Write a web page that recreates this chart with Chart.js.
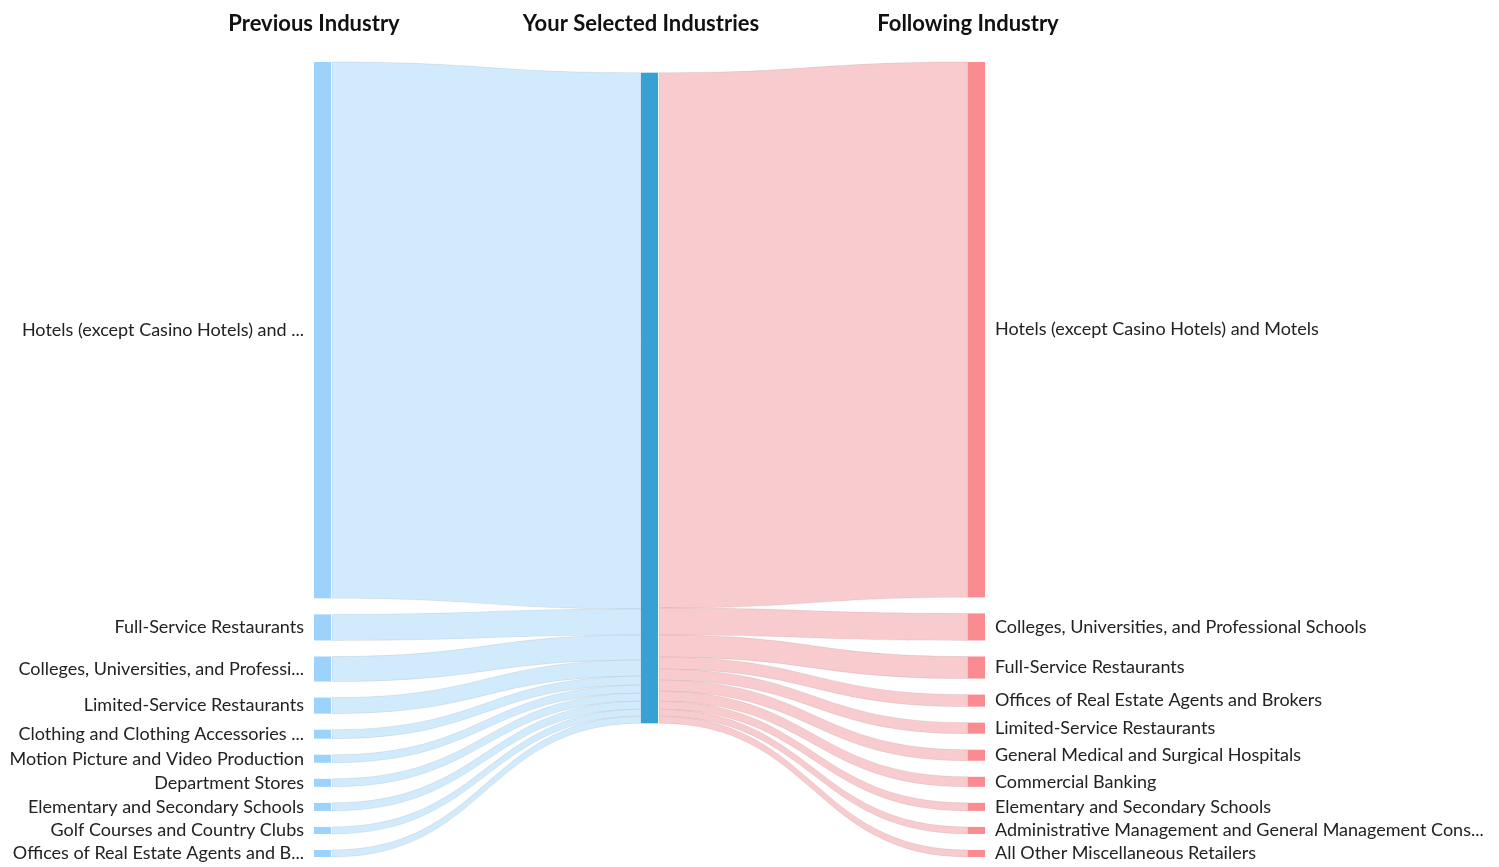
<!DOCTYPE html>
<html>
<head>
<meta charset="utf-8">
<script src="https://cdn.jsdelivr.net/npm/chart.js@4.4.1/dist/chart.umd.min.js"></script>
<style>
  html, body { margin: 0; padding: 0; background: #fff; }
  #wrap { width: 1499px; height: 867px; }
</style>
</head>
<body>
<div id="wrap"><canvas id="flowChart"></canvas></div>
<script>
// column headings (drawn as x axis ticks)
var columns = ['Previous Industry', 'Your Selected Industries', 'Following Industry'];

// industries people came from, and how many
var prevLabels = [
  'Hotels (except Casino Hotels) and ...',
  'Full-Service Restaurants',
  'Colleges, Universities, and Professi...',
  'Limited-Service Restaurants',
  'Clothing and Clothing Accessories ...',
  'Motion Picture and Video Production',
  'Department Stores',
  'Elementary and Secondary Schools',
  'Golf Courses and Country Clubs',
  'Offices of Real Estate Agents and B...'
];
var prevValues = [535, 26, 25, 16, 9, 8, 8, 8, 7, 7];

// industries people went to next
var nextLabels = [
  'Hotels (except Casino Hotels) and Motels',
  'Colleges, Universities, and Professional Schools',
  'Full-Service Restaurants',
  'Offices of Real Estate Agents and Brokers',
  'Limited-Service Restaurants',
  'General Medical and Surgical Hospitals',
  'Commercial Banking',
  'Elementary and Secondary Schools',
  'Administrative Management and General Management Cons...',
  'All Other Miscellaneous Retailers'
];
var nextValues = [534, 27, 22, 12, 11, 11, 10, 8, 7, 7];

var NODE_GAP = 16;     // space between nodes, in value units
var NODE_WIDTH = 17;   // px
var LABEL_PAD = 10;    // px

function sum(arr) { return arr.reduce(function (a, b) { return a + b; }, 0); }

// stack a column from the top, returns [{y0, y1}]
function stackColumn(values) {
  var y = 0;
  return values.map(function (v) {
    var n = { y0: y, y1: y + v };
    y += v + NODE_GAP;
    return n;
  });
}

var prevNodes = stackColumn(prevValues);
var nextNodes = stackColumn(nextValues);
var total = Math.max(sum(prevValues), sum(nextValues));
var yMax = Math.max(
  prevNodes[prevNodes.length - 1].y1,
  nextNodes[nextNodes.length - 1].y1
);

// middle node sits at the weighted centre of everything linked to it
function weightedCentre(nodes, values) {
  var s = 0;
  nodes.forEach(function (n, i) { s += (n.y0 + n.y1) / 2 * values[i]; });
  return s / sum(values);
}
var midCentre = (weightedCentre(prevNodes, prevValues) + weightedCentre(nextNodes, nextValues)) / 2;
var midNode = { y0: midCentre - total / 2, y1: midCentre + total / 2 };

var colors = {
  prevNode: '#9dd3fb',
  prevLink: '#d1ebfd',
  midNode: '#38a1d4',
  nextNode: '#f98b91',
  nextLink: '#f8cbce',
  linkEdge: 'rgba(0,0,0,0.07)',
  text: '#222'
};

function drawLink(ctx, x0, x1, a0, a1, b0, b1, fill) {
  var xm = (x0 + x1) / 2;
  ctx.beginPath();
  ctx.moveTo(x0, a0);
  ctx.bezierCurveTo(xm, a0, xm, b0, x1, b0);
  ctx.lineTo(x1, b1);
  ctx.bezierCurveTo(xm, b1, xm, a1, x0, a1);
  ctx.closePath();
  ctx.fillStyle = fill;
  ctx.fill();
  ctx.strokeStyle = colors.linkEdge;
  ctx.lineWidth = 1;
  ctx.stroke();
}

var sankeyPlugin = {
  id: 'sankey',
  afterDatasetsDraw: function (chart) {
    var ctx = chart.ctx;
    var xs = chart.scales.x, ys = chart.scales.y;
    var xp = [0, 1, 2].map(function (i) { return xs.getPixelForValue(i); });
    var py = function (v) { return ys.getPixelForValue(v); };

    ctx.save();

    // links into the middle node
    var cursor = midNode.y0;
    prevNodes.forEach(function (n, i) {
      var v = prevValues[i];
      drawLink(ctx, xp[0] + NODE_WIDTH + 1, xp[1],
        py(n.y0), py(n.y1), py(cursor), py(cursor + v), colors.prevLink);
      cursor += v;
    });

    // links out of the middle node
    cursor = midNode.y0;
    nextNodes.forEach(function (n, i) {
      var v = nextValues[i];
      drawLink(ctx, xp[1] + NODE_WIDTH + 1, xp[2],
        py(cursor), py(cursor + v), py(n.y0), py(n.y1), colors.nextLink);
      cursor += v;
    });

    // nodes
    function rect(x, n, c) {
      ctx.fillStyle = c;
      ctx.fillRect(x, py(n.y0), NODE_WIDTH, py(n.y1) - py(n.y0));
    }
    prevNodes.forEach(function (n) { rect(xp[0], n, colors.prevNode); });
    rect(xp[1], midNode, colors.midNode);
    nextNodes.forEach(function (n) { rect(xp[2], n, colors.nextNode); });

    // node labels
    ctx.font = '18px Lato, "Noto Sans", sans-serif';
    ctx.fillStyle = colors.text;
    ctx.textBaseline = 'middle';
    ctx.textAlign = 'right';
    prevNodes.forEach(function (n, i) {
      ctx.fillText(prevLabels[i], xp[0] - LABEL_PAD, py((n.y0 + n.y1) / 2));
    });
    ctx.textAlign = 'left';
    nextNodes.forEach(function (n, i) {
      ctx.fillText(nextLabels[i], xp[2] + NODE_WIDTH + LABEL_PAD, py((n.y0 + n.y1) / 2));
    });

    ctx.restore();
  }
};

var ctx = document.getElementById('flowChart');
var flowChart = new Chart(ctx, {
  type: 'scatter',
  data: { datasets: [{ data: [] }] },
  options: {
    responsive: true,
    maintainAspectRatio: false,
    animation: false,
    events: [],
    layout: { padding: { left: 314, right: 531, top: 0, bottom: 10 } },
    plugins: { legend: { display: false }, tooltip: { enabled: false } },
    scales: {
      x: {
        type: 'linear',
        position: 'top',
        min: 0,
        max: 2,
        afterBuildTicks: function (scale) {
          scale.ticks = columns.map(function (c, i) { return { value: i }; });
        },
        afterFit: function (scale) {
          scale.height = 62;
        },
        ticks: {
          maxRotation: 0,
          autoSkip: false,
          padding: 25,
          color: '#111',
          font: { family: 'Lato', size: 22, weight: 'bold' },
          callback: function (v) { return columns[v]; }
        },
        grid: { display: false, drawTicks: false },
        border: { display: false }
      },
      y: {
        type: 'linear',
        display: false,
        reverse: true,
        min: 0,
        max: yMax
      }
    }
  },
  plugins: [sankeyPlugin]
});
</script>
</body>
</html>
